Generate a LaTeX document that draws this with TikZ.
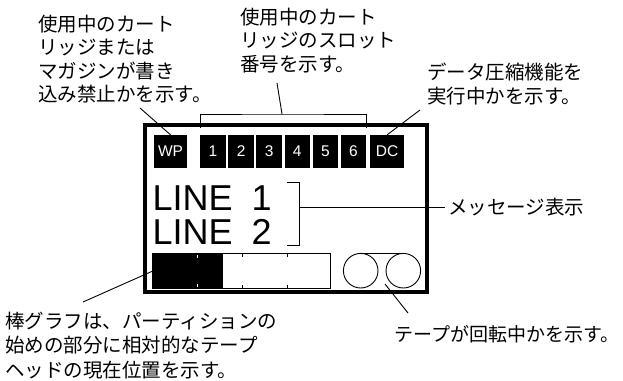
\documentclass[tikz,border=0pt]{standalone}
\usepackage{fontspec}
\setmainfont{Liberation Sans}
\newfontfamily\jp{Noto Sans CJK JP}
\usepackage{tikz}
\usetikzlibrary{calc}
\usetikzlibrary{positioning}

\begin{document}
\begin{tikzpicture}[
    x=1pt, y=-1pt,
    slot/.style={rectangle, fill=black, text=white, minimum width=25.5pt, minimum height=33pt, inner sep=0pt, font=\fontsize{15.5}{15.5}\selectfont},
    note/.style={align=left, anchor=north west, inner sep=0pt, font=\jp\fontsize{19.5}{23.3}\selectfont},
    msg/.style={anchor=base west, inner sep=0pt, font=\fontsize{36}{36}\selectfont},
    leader/.style={line width=0.9pt},
    panel/.style={line width=4pt},
    reel/.style={circle, draw, line width=0.9pt, minimum size=34.6pt, inner sep=0pt}
]
    \useasboundingbox (0,0) rectangle (623,380);

    % Panel frame
    \draw [panel] (145,125) rectangle (427,292);

    % Status boxes along the top of the panel
    \node (wp) [slot, minimum width=33pt] at (170.5,151.5) {WP};
    \node (s1) [slot] at (213,151.5) {1};
    \node (s2) [slot, right=2.2pt of s1] {2};
    \node (s3) [slot, right=2.2pt of s2] {3};
    \node (s4) [slot, right=2.2pt of s3] {4};
    \node (s5) [slot, right=2.2pt of s4] {5};
    \node (s6) [slot, right=2.2pt of s5] {6};
    \node (dc) [slot, minimum width=34pt, right=3.5pt of s6] {DC};

    % Message lines and their bracket
    \node (line1) [msg] at (152.5,210) {LINE\hspace{19pt}1};
    \node (line2) [msg] at (152.5,244) {LINE\hspace{19pt}2};
    \coordinate (msgBrk) at (299,207);
    \draw [leader] (287,182) -| (299,245) -- (287,245);

    % Bar graph
    \node (bar) [minimum width=177pt, minimum height=34pt, inner sep=0pt] at (241.5,271) {};
    \fill (bar.north west) rectangle ($(bar.south west)+(70,0)$);
    \draw [leader] (bar.north west) rectangle (bar.south east);
    \draw [white, line width=1pt] (197,255) -- (197,258) (197,284) -- (197,287);
    \draw [line width=0.9pt] (242,254) -- (242,257) (242,285) -- (242,288);
    \draw [line width=0.9pt] (287,254) -- (287,257) (287,285) -- (287,288);

    % Tape reels
    \node (reelL) [reel] at (360.7,270.7) {};
    \node (reelR) [reel] at (403.3,270.7) {};
    \draw [leader] (reelL.north) -- (reelR.north);

    % Slot bracket
    \coordinate (slotBrk) at (282,114);
    \draw [leader] ($(s1.north west)+(0,-7)$) |- (slotBrk) -| ($(s6.north east)+(0,-7)$);

    % Notes
    \node (noteWP)   [note] at (38,15) {使用中のカート\\リッジまたは\\マガジンが書き\\込み禁止かを示す。};
    \node (noteSlot) [note] at (240,8) {使用中のカート\\リッジのスロット\\番号を示す。};
    \node (noteDC)   [note, font=\jp\fontsize{19.5}{24}\selectfont] at (427,63) {データ圧縮機能を\\実行中かを示す。};
    \node (noteMsg)  [note, anchor=west, inner xsep=3pt] at (445,207) {メッセージ表示};
    \node (noteBar)  [note, font=\jp\fontsize{19.5}{24.3}\selectfont] at (5,312) {棒グラフは、パーティションの\\始めの部分に相対的なテープ\\ヘッドの現在位置を示す。};
    \node (noteTape) [note, font=\jp\fontsize{19}{23}\selectfont] at (394,325.5) {テープが回転中かを示す。};

    % Leader lines
    \coordinate (wpTip) at (140,108);
    \coordinate (slotTip) at (277,83);
    \coordinate (dcTip) at (420,110);
    \coordinate (barTip) at (83,302);
    \coordinate (tapeTip) at (408,313);
    \coordinate (tapeEnd) at (385,284);
    \draw [leader] (wpTip) -- (wp.north);
    \draw [leader] (slotTip) -- (slotBrk);
    \draw [leader] (dcTip) -- (dc.north);
    \draw [leader] (msgBrk) -- (noteMsg.west);
    \draw [leader] (barTip) -- (bar.west);
    \draw [leader] (tapeTip) -- (tapeEnd);

\end{tikzpicture}
\end{document}
